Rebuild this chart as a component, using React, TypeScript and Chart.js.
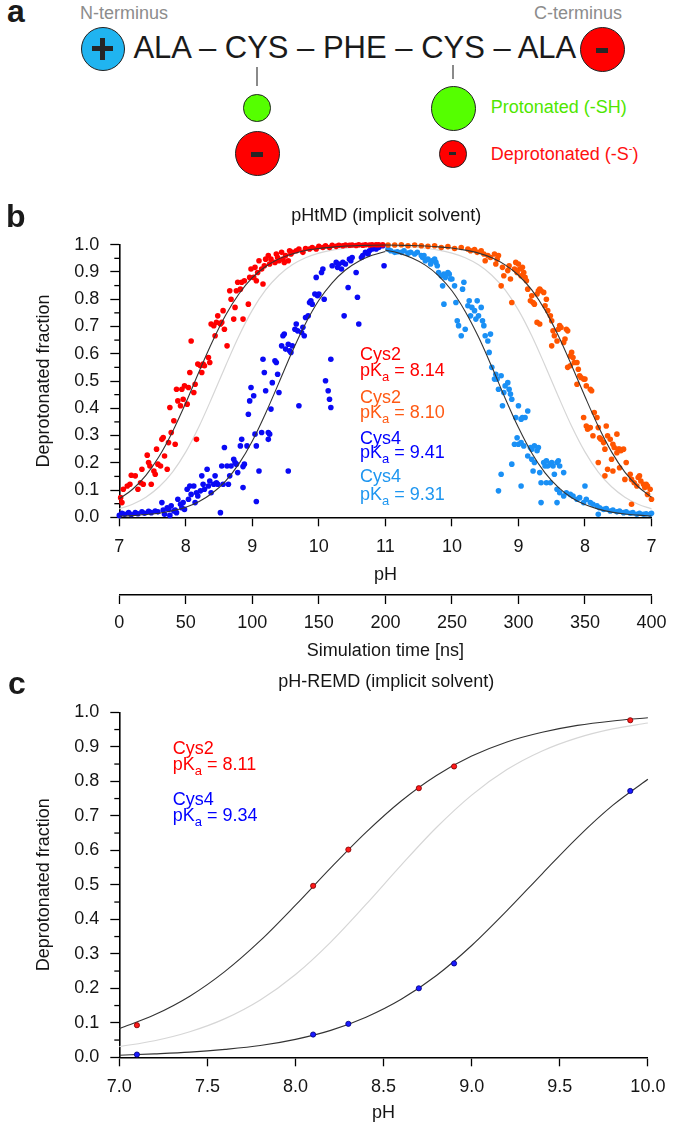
import React, { useEffect, useRef } from 'react';
import { Chart, registerables } from 'chart.js';

Chart.register(...registerables);

const FONT = '"Liberation Sans", Arial, Helvetica, sans-serif';

// ---------------- Panel b data (pHtMD) ----------------
const PH_TICK_LABELS = ['7', '8', '9', '10', '11', '10', '9', '8', '7'];
const TIME_TICK_LABELS = ['0', '50', '100', '150', '200', '250', '300', '350', '400'];

const CYS2_UP_T = [1, 2, 3, 6, 8, 9, 12, 14, 16, 17, 18, 21, 22, 23, 24, 26, 27, 28, 29, 31, 32, 33, 34, 36, 37, 38, 39, 41, 42, 43, 44, 46, 47, 48, 49, 51, 52, 53, 54, 56, 57, 58, 59, 61, 62, 63, 64, 67, 68, 69, 71, 72, 73, 74, 76, 77, 78, 79, 81, 83, 84, 86, 87, 88, 89, 91, 92, 93, 94, 97, 98, 99, 101, 102, 103, 104, 105, 107, 108, 109, 110, 112, 113, 114, 117, 118, 119, 120, 122, 123, 124, 125, 127, 128, 129, 130, 133, 135, 138, 140, 143, 145, 148, 150, 153, 155, 158, 160, 163, 165, 168, 170, 173, 175, 178, 180, 183, 185, 188, 190, 193, 195, 198];
const CYS2_UP_F = [0.072, 0.054, 0.103, 0.115, 0.121, 0.154, 0.152, 0.103, 0.127, 0.176, 0.121, 0.228, 0.201, 0.188, 0.121, 0.17, 0.158, 0.25, 0.195, 0.188, 0.286, 0.293, 0.225, 0.176, 0.274, 0.403, 0.311, 0.354, 0.268, 0.47, 0.427, 0.409, 0.47, 0.433, 0.482, 0.415, 0.476, 0.531, 0.647, 0.458, 0.488, 0.286, 0.562, 0.556, 0.531, 0.562, 0.556, 0.586, 0.568, 0.709, 0.703, 0.666, 0.715, 0.739, 0.709, 0.715, 0.758, 0.69, 0.629, 0.831, 0.8, 0.727, 0.77, 0.831, 0.862, 0.837, 0.862, 0.727, 0.868, 0.782, 0.88, 0.911, 0.88, 0.917, 0.868, 0.898, 0.941, 0.911, 0.856, 0.923, 0.947, 0.96, 0.929, 0.947, 0.935, 0.966, 0.953, 0.941, 0.972, 0.947, 0.935, 0.96, 0.941, 0.978, 0.966, 0.972, 0.978, 0.984, 0.972, 0.986, 0.984, 0.99, 0.984, 0.994, 0.99, 0.996, 0.99, 0.998, 0.994, 0.998, 0.996, 0.999, 0.998, 0.999, 0.997, 1.0, 0.998, 1.0, 0.999, 1.0, 1.0, 1.0, 1.0];

const CYS4_UP_T = [0, 2, 4, 7, 9, 12, 14, 17, 19, 22, 24, 27, 29, 32, 33, 34, 36, 37, 38, 39, 41, 42, 43, 44, 46, 47, 48, 49, 51, 52, 53, 54, 56, 57, 58, 59, 61, 62, 63, 64, 66, 67, 68, 69, 71, 72, 73, 74, 76, 77, 78, 79, 81, 82, 83, 84, 86, 87, 88, 89, 91, 92, 93, 93, 94, 96, 97, 98, 99, 101, 102, 103, 103, 105, 107, 108, 109, 110, 112, 112, 113, 114, 115, 117, 118, 119, 120, 122, 123, 124, 125, 127, 127, 128, 129, 130, 132, 133, 134, 135, 137, 138, 139, 140, 142, 143, 144, 145, 147, 148, 149, 150, 152, 153, 154, 155, 157, 158, 159, 159, 160, 163, 164, 165, 167, 168, 169, 170, 172, 173, 174, 175, 178, 179, 180, 182, 183, 185, 187, 188, 190, 193, 195, 198, 199];
const CYS4_UP_F = [0.007, 0.015, 0.011, 0.017, 0.01, 0.017, 0.013, 0.02, 0.015, 0.022, 0.017, 0.023, 0.02, 0.054, 0.027, 0.011, 0.035, 0.029, 0.007, 0.042, 0.023, 0.027, 0.017, 0.066, 0.048, 0.035, 0.054, 0.029, 0.103, 0.066, 0.115, 0.084, 0.115, 0.054, 0.09, 0.078, 0.097, 0.152, 0.121, 0.103, 0.176, 0.115, 0.133, 0.09, 0.121, 0.152, 0.127, 0.121, 0.017, 0.188, 0.121, 0.256, 0.188, 0.121, 0.152, 0.188, 0.213, 0.201, 0.195, 0.164, 0.262, 0.286, 0.109, 0.186, 0.195, 0.262, 0.378, 0.427, 0.476, 0.446, 0.305, 0.262, 0.058, 0.17, 0.311, 0.58, 0.531, 0.464, 0.311, 0.286, 0.305, 0.397, 0.494, 0.574, 0.568, 0.525, 0.458, 0.629, 0.666, 0.672, 0.617, 0.635, 0.17, 0.611, 0.605, 0.629, 0.69, 0.709, 0.684, 0.409, 0.678, 0.697, 0.666, 0.733, 0.739, 0.788, 0.794, 0.782, 0.819, 0.88, 0.813, 0.819, 0.898, 0.911, 0.8, 0.501, 0.464, 0.433, 0.403, 0.58, 0.923, 0.935, 0.917, 0.929, 0.911, 0.935, 0.739, 0.929, 0.843, 0.947, 0.941, 0.953, 0.898, 0.807, 0.709, 0.953, 0.96, 0.972, 0.966, 0.978, 0.984, 0.984, 0.99, 0.996, 0.923];

const CYS2_DOWN_T = [202, 207, 212, 217, 222, 227, 232, 237, 242, 247, 252, 257, 262, 264, 267, 269, 272, 274, 275, 277, 279, 282, 283, 284, 285, 287, 288, 289, 292, 293, 294, 295, 297, 298, 299, 300, 302, 303, 301, 304, 305, 306, 307, 309, 310, 311, 312, 314, 315, 316, 317, 319, 320, 321, 322, 324, 325, 314, 316, 326, 325, 327, 329, 330, 331, 332, 334, 335, 336, 337, 339, 340, 341, 342, 337, 339, 344, 345, 346, 347, 349, 350, 351, 354, 355, 344, 349, 351, 352, 354, 356, 357, 359, 360, 361, 362, 364, 365, 366, 367, 369, 371, 372, 374, 375, 376, 377, 379, 360, 365, 367, 370, 371, 374, 376, 380, 381, 384, 385, 385, 387, 389, 390, 391, 392, 394, 395, 396, 397, 397, 399, 400];
const CYS2_DOWN_F = [0.999, 0.999, 1.0, 0.996, 0.999, 0.996, 0.994, 0.996, 0.99, 0.993, 0.986, 0.99, 0.984, 0.978, 0.982, 0.972, 0.978, 0.966, 0.941, 0.96, 0.953, 0.966, 0.929, 0.947, 0.96, 0.849, 0.917, 0.886, 0.905, 0.923, 0.874, 0.788, 0.911, 0.935, 0.898, 0.929, 0.886, 0.917, 0.911, 0.898, 0.88, 0.868, 0.837, 0.794, 0.813, 0.788, 0.782, 0.819, 0.831, 0.837, 0.831, 0.825, 0.776, 0.8, 0.758, 0.739, 0.721, 0.715, 0.709, 0.684, 0.629, 0.666, 0.647, 0.69, 0.703, 0.696, 0.641, 0.654, 0.69, 0.684, 0.592, 0.605, 0.586, 0.568, 0.55, 0.556, 0.568, 0.543, 0.519, 0.513, 0.507, 0.507, 0.482, 0.47, 0.464, 0.488, 0.366, 0.335, 0.323, 0.329, 0.299, 0.384, 0.366, 0.329, 0.292, 0.286, 0.274, 0.25, 0.335, 0.299, 0.286, 0.268, 0.256, 0.305, 0.25, 0.25, 0.244, 0.25, 0.201, 0.152, 0.176, 0.213, 0.17, 0.237, 0.182, 0.139, 0.201, 0.158, 0.139, 0.048, 0.127, 0.115, 0.146, 0.152, 0.133, 0.121, 0.109, 0.121, 0.084, 0.115, 0.103, 0.066];

const CYS4_DOWN_T = [202, 204, 207, 209, 212, 214, 217, 219, 222, 224, 227, 228, 229, 230, 232, 234, 235, 237, 238, 239, 240, 242, 243, 244, 244, 245, 247, 248, 249, 250, 252, 253, 254, 255, 257, 258, 259, 260, 262, 263, 264, 265, 267, 268, 269, 270, 272, 273, 274, 275, 277, 278, 279, 280, 282, 283, 284, 285, 285, 287, 287, 288, 289, 290, 292, 293, 294, 295, 295, 297, 298, 299, 300, 302, 302, 303, 300, 302, 305, 307, 304, 309, 310, 312, 314, 315, 307, 310, 312, 311, 316, 319, 320, 321, 322, 324, 325, 326, 327, 329, 330, 331, 334, 321, 324, 317, 317, 329, 329, 331, 334, 336, 339, 341, 344, 346, 349, 350, 351, 354, 356, 359, 360, 361, 364, 366, 369, 371, 374, 376, 379, 381, 384, 386, 389, 391, 394, 396, 399, 400];
const CYS4_DOWN_F = [0.984, 0.978, 0.972, 0.974, 0.972, 0.978, 0.969, 0.972, 0.966, 0.972, 0.96, 0.953, 0.96, 0.941, 0.947, 0.929, 0.941, 0.947, 0.935, 0.923, 0.898, 0.886, 0.849, 0.782, 0.892, 0.88, 0.898, 0.892, 0.874, 0.874, 0.849, 0.788, 0.721, 0.703, 0.666, 0.837, 0.862, 0.69, 0.776, 0.794, 0.739, 0.77, 0.758, 0.727, 0.794, 0.739, 0.77, 0.721, 0.703, 0.666, 0.647, 0.605, 0.672, 0.55, 0.507, 0.525, 0.507, 0.47, 0.097, 0.519, 0.158, 0.409, 0.458, 0.482, 0.494, 0.47, 0.452, 0.433, 0.195, 0.268, 0.366, 0.292, 0.268, 0.274, 0.115, 0.366, 0.409, 0.36, 0.366, 0.39, 0.262, 0.256, 0.25, 0.262, 0.244, 0.256, 0.225, 0.213, 0.201, 0.17, 0.164, 0.201, 0.188, 0.207, 0.188, 0.195, 0.201, 0.188, 0.158, 0.201, 0.207, 0.188, 0.164, 0.127, 0.127, 0.127, 0.054, 0.054, 0.103, 0.09, 0.078, 0.09, 0.084, 0.078, 0.066, 0.072, 0.054, 0.115, 0.066, 0.054, 0.048, 0.042, 0.011, 0.035, 0.029, 0.032, 0.023, 0.027, 0.02, 0.023, 0.017, 0.02, 0.015, 0.017, 0.011, 0.015, 0.011, 0.013, 0.011, 0.015];

// fitted titration curves read along the time axis (panel b)
const FIT_T_UP = [0, 10, 20, 30, 40, 50, 60, 70, 80, 90, 100, 110, 120, 130, 140, 150, 160, 170, 180, 190, 200];
const FIT_CYS2_UP = [0.068, 0.103, 0.154, 0.224, 0.314, 0.42, 0.535, 0.645, 0.742, 0.82, 0.879, 0.92, 0.948, 0.966, 0.979, 0.986, 0.991, 0.995, 0.997, 0.998, 0.999];
const FIT_CYS4_UP = [0.004, 0.006, 0.01, 0.015, 0.024, 0.037, 0.058, 0.089, 0.134, 0.197, 0.28, 0.382, 0.494, 0.608, 0.711, 0.796, 0.86, 0.907, 0.939, 0.961, 0.975];
const FIT_T_DOWN = [200, 210, 220, 230, 240, 250, 260, 270, 280, 290, 300, 310, 320, 330, 340, 350, 360, 370, 380, 390, 400];
const FIT_CYS2_DOWN = [0.999, 0.998, 0.997, 0.995, 0.992, 0.988, 0.98, 0.969, 0.952, 0.926, 0.888, 0.834, 0.76, 0.666, 0.557, 0.443, 0.334, 0.24, 0.166, 0.112, 0.074];
const FIT_CYS4_DOWN = [0.98, 0.969, 0.951, 0.925, 0.886, 0.831, 0.755, 0.661, 0.552, 0.437, 0.329, 0.236, 0.163, 0.11, 0.072, 0.047, 0.03, 0.019, 0.012, 0.008, 0.005];
const REF_T = [0, 10, 20, 30, 40, 50, 60, 70, 80, 90, 100, 110, 120, 130, 140, 150, 160, 170, 180, 190, 200, 210, 220, 230, 240, 250, 260, 270, 280, 290, 300, 310, 320, 330, 340, 350, 360, 370, 380, 390, 400];
const REF_F = [0.031, 0.048, 0.074, 0.112, 0.166, 0.24, 0.334, 0.443, 0.557, 0.666, 0.76, 0.834, 0.888, 0.926, 0.952, 0.969, 0.98, 0.987, 0.992, 0.995, 0.997, 0.995, 0.992, 0.987, 0.98, 0.969, 0.952, 0.926, 0.888, 0.834, 0.76, 0.666, 0.557, 0.443, 0.334, 0.24, 0.166, 0.112, 0.074, 0.048, 0.031];

// ---------------- Panel c data (pH-REMD) ----------------
const REMD_PH = [7.1, 8.1, 8.3, 8.7, 8.9, 9.9];
const REMD_CYS2 = [0.093, 0.497, 0.602, 0.78, 0.843, 0.977];
const REMD_CYS4 = [0.008, 0.066, 0.097, 0.2, 0.272, 0.772];
const FIT_PH = [7.0, 7.2, 7.4, 7.6, 7.8, 8.0, 8.2, 8.4, 8.6, 8.8, 9.0, 9.2, 9.4, 9.6, 9.8, 10.0];
const FIT_C_CYS2 = [0.083, 0.123, 0.177, 0.249, 0.338, 0.441, 0.549, 0.652, 0.743, 0.817, 0.873, 0.914, 0.942, 0.962, 0.975, 0.984];
const FIT_C_CYS4 = [0.006, 0.01, 0.015, 0.023, 0.034, 0.052, 0.078, 0.116, 0.168, 0.237, 0.324, 0.425, 0.532, 0.637, 0.73, 0.806];
const FIT_C_REF = [0.031, 0.048, 0.074, 0.112, 0.166, 0.24, 0.334, 0.443, 0.557, 0.666, 0.76, 0.834, 0.888, 0.926, 0.952, 0.969];

// ---------------- styles ----------------
const RED = '#ff0000';
const ORANGE = '#ff5500';
const BLUE = '#0a0af5';
const LIGHT_BLUE = '#1a90f5';
const CURVE = '#333333';
const REF = '#d6d6d6';
const AXIS = '#000000';
const TXT = '#151515';

const pts = (xs: number[], ys: number[]) => xs.map((x, i) => ({ x, y: ys[i] }));

const curve = (data: any[], color: string, width = 1.1) => ({
  data,
  borderColor: color,
  borderWidth: width,
  pointRadius: 0,
  cubicInterpolationMode: 'monotone',
  fill: false,
  showLine: true,
  clip: 2,
});

const dots = (data: any[], color: string, radius = 2.8, border = 'rgba(0,0,0,0)', bw = 0) => ({
  data,
  showLine: false,
  pointRadius: radius,
  pointBackgroundColor: color,
  pointBorderColor: border,
  pointBorderWidth: bw,
  borderColor: color,
  backgroundColor: color,
  clip: 6,
});

const isMinor = (v: number) => Math.round(v * 20) % 2 === 1;

const minorTicks = {
  id: 'minorTicks',
  afterDraw(chart: any) {
    const y = chart.scales.y;
    const ctx = chart.ctx;
    ctx.save();
    ctx.strokeStyle = AXIS;
    ctx.lineWidth = 1.3;
    y.ticks.forEach((t: any) => {
      if (isMinor(t.value)) {
        const py = y.getPixelForValue(t.value);
        ctx.beginPath();
        ctx.moveTo(y.right - 5, py);
        ctx.lineTo(y.right, py);
        ctx.stroke();
      }
    });
    ctx.restore();
  },
};

const font18 = { family: FONT, size: 18 };

const yScale = () => ({
  type: 'linear',
  min: 0,
  max: 1,
  afterFit: (s: any) => {
    s.width = 119.3;
  },
  ticks: {
    stepSize: 0.05,
    autoSkip: false,
    padding: 11,
    color: TXT,
    font: font18,
    callback: (v: any) => (isMinor(Number(v)) ? '' : Number(v).toFixed(1)),
  },
  grid: {
    drawOnChartArea: false,
    tickLength: 9,
    tickWidth: 1.3,
    tickColor: (c: any) => (c.tick && isMinor(c.tick.value) ? 'rgba(0,0,0,0)' : AXIS),
  },
  border: { display: true, color: AXIS, width: 1.6 },
  title: {
    display: true,
    text: 'Deprotonated fraction',
    color: TXT,
    font: font18,
    padding: { top: 33.7, bottom: 0 },
  },
});

const baseOptions = (scales: any, padTop: number) => ({
  responsive: false,
  maintainAspectRatio: false,
  animation: false,
  devicePixelRatio: 1,
  events: [],
  layout: { padding: { left: 0, right: 22, top: padTop, bottom: 0 } },
  plugins: { legend: { display: false }, tooltip: { enabled: false }, title: { display: false } },
  scales,
});

function configB() {
  return {
    type: 'line',
    data: {
      datasets: [
        curve(pts(FIT_T_UP, FIT_CYS2_UP), CURVE),
        curve(pts(FIT_T_UP, FIT_CYS4_UP), CURVE),
        curve(pts(FIT_T_DOWN, FIT_CYS2_DOWN), CURVE),
        curve(pts(FIT_T_DOWN, FIT_CYS4_DOWN), CURVE),
        dots(pts(CYS2_UP_T, CYS2_UP_F), RED),
        dots(pts(CYS4_UP_T, CYS4_UP_F), BLUE),
        dots(pts(CYS2_DOWN_T, CYS2_DOWN_F), ORANGE),
        dots(pts(CYS4_DOWN_T, CYS4_DOWN_F), LIGHT_BLUE),
        curve(pts(REF_T, REF_F), REF, 1.2),
      ],
    },
    options: baseOptions(
      {
        x: {
          type: 'linear',
          position: 'bottom',
          weight: 0,
          min: 0,
          max: 400,
          afterFit: (s: any) => {
            s.height = 77.7;
          },
          ticks: {
            stepSize: 50,
            autoSkip: false,
            maxRotation: 0,
            padding: 9.6,
            color: TXT,
            font: font18,
            callback: (_v: any, i: number) => PH_TICK_LABELS[i],
          },
          grid: { drawOnChartArea: false, tickLength: 9, tickWidth: 1.3, tickColor: AXIS },
          border: { display: true, color: AXIS, width: 1.6 },
          title: { display: true, text: 'pH', color: TXT, font: font18, padding: { top: 0, bottom: 9.2 } },
        },
        x2: {
          type: 'linear',
          position: 'bottom',
          weight: 1,
          min: 0,
          max: 400,
          afterFit: (s: any) => {
            s.height = 67;
          },
          ticks: {
            stepSize: 50,
            autoSkip: false,
            maxRotation: 0,
            padding: 8.5,
            color: TXT,
            font: font18,
            callback: (_v: any, i: number) => TIME_TICK_LABELS[i],
          },
          grid: { drawOnChartArea: false, tickLength: 9, tickWidth: 1.3, tickColor: AXIS },
          border: { display: true, color: AXIS, width: 1.6 },
          title: {
            display: true,
            text: 'Simulation time [ns]',
            color: TXT,
            font: font18,
            padding: { top: 0, bottom: 0 },
          },
        },
        y: yScale(),
      },
      44.7
    ),
    plugins: [minorTicks],
  };
}

function configC() {
  return {
    type: 'line',
    data: {
      datasets: [
        dots(pts(REMD_PH, REMD_CYS2), '#ff1a1a', 2.6, '#7a0000', 0.8),
        dots(pts(REMD_PH, REMD_CYS4), '#1a1aff', 2.6, '#00007a', 0.8),
        curve(pts(FIT_PH, FIT_C_CYS2), CURVE),
        curve(pts(FIT_PH, FIT_C_CYS4), CURVE),
        curve(pts(FIT_PH, FIT_C_REF), REF, 1.2),
      ],
    },
    options: baseOptions(
      {
        x: {
          type: 'linear',
          position: 'bottom',
          min: 7,
          max: 10,
          afterFit: (s: any) => {
            s.height = 66.7;
          },
          ticks: {
            stepSize: 0.5,
            autoSkip: false,
            maxRotation: 0,
            padding: 9.6,
            color: TXT,
            font: font18,
            callback: (v: any) => Number(v).toFixed(1),
          },
          grid: { drawOnChartArea: false, tickLength: 9, tickWidth: 1.3, tickColor: AXIS },
          border: { display: true, color: AXIS, width: 1.6 },
          title: { display: true, text: 'pH', color: TXT, font: font18, padding: { top: 0, bottom: 0.2 } },
        },
        y: yScale(),
      },
      42.3
    ),
    plugins: [minorTicks],
  };
}

function ChartCanvas({ top, height, makeConfig }: { top: number; height: number; makeConfig: () => any }) {
  const ref = useRef<HTMLCanvasElement>(null);
  useEffect(() => {
    const chart = new Chart(ref.current as HTMLCanvasElement, makeConfig());
    return () => chart.destroy();
  }, []);
  return (
    <canvas
      ref={ref}
      width={675}
      height={height}
      style={{ position: 'absolute', left: 0, top, width: 675, height, display: 'block' }}
    />
  );
}

function Label({
  x,
  cy,
  size = 18,
  color = TXT,
  bold = false,
  anchor = 'start',
  children,
}: {
  x: number;
  cy: number;
  size?: number;
  color?: string;
  bold?: boolean;
  anchor?: string;
  children: any;
}) {
  return (
    <div
      style={{
        position: 'absolute',
        left: x,
        top: cy - 0.4885 * size,
        fontFamily: FONT,
        fontSize: size,
        fontWeight: bold ? 700 : 400,
        lineHeight: 1,
        color,
        whiteSpace: 'pre',
        transform: anchor === 'middle' ? 'translateX(-50%)' : undefined,
      }}
    >
      {children}
    </div>
  );
}

function PKa({ value }: { value: string }) {
  return (
    <>
      pK<span style={{ fontSize: 13, position: 'relative', top: 5 }}>a</span>
      {' = ' + value}
    </>
  );
}

function Circle({ cx, cy, r, fill }: { cx: number; cy: number; r: number; fill: string }) {
  return (
    <div
      style={{
        position: 'absolute',
        left: cx - r,
        top: cy - r,
        width: 2 * r,
        height: 2 * r,
        borderRadius: '50%',
        background: fill,
        border: '1.5px solid #222',
        boxSizing: 'border-box',
      }}
    />
  );
}

function Bar({ cx, cy, w, h, color = '#262626' }: { cx: number; cy: number; w: number; h: number; color?: string }) {
  return (
    <div style={{ position: 'absolute', left: cx - w / 2, top: cy - h / 2, width: w, height: h, background: color }} />
  );
}

export default function App() {
  return (
    <div
      style={{
        position: 'absolute',
        left: 0,
        top: 0,
        width: 675,
        height: 1128,
        background: '#ffffff',
        overflow: 'hidden',
      }}
    >
      {/* Panel a */}
      <Label x={7} cy={11} size={32} bold color="#1a1a1a">a</Label>
      <Label x={80} cy={12.8} size={18} color="#8c8c8c">N-terminus</Label>
      <Label x={534} cy={12.8} size={18} color="#8c8c8c">C-terminus</Label>
      <Circle cx={103} cy={49} r={22} fill="#20b4f0" />
      <Bar cx={102.5} cy={48.5} w={21} h={4.5} />
      <Bar cx={102.5} cy={48.5} w={4.5} h={22} />
      <Label x={133.4} cy={47.2} size={31} color="#1a1a1a">ALA – CYS – PHE – CYS – ALA</Label>
      <Circle cx={602} cy={49} r={22.5} fill="#ff0000" />
      <Bar cx={602} cy={50} w={12} h={5} />
      <Bar cx={257} cy={76} w={2.6} h={19} color="#8a8a8a" />
      <Bar cx={453} cy={72} w={2.6} h={14} color="#8a8a8a" />
      <Circle cx={257} cy={108} r={13.7} fill="#55ff00" />
      <Circle cx={257} cy={153.5} r={22.5} fill="#ff0000" />
      <Bar cx={257} cy={154} w={12} h={5} />
      <Circle cx={453} cy={108} r={22.5} fill="#55ff00" />
      <Circle cx={453} cy={154} r={13.7} fill="#ff0000" />
      <Bar cx={452.5} cy={153.5} w={7} h={3.5} />
      <Label x={490.7} cy={106.7} size={18} color="#4fe600">Protonated (-SH)</Label>
      <Label x={490.7} cy={153.3} size={18} color="#ff1010">
        Deprotonated (-S<span style={{ fontSize: 11, position: 'relative', top: -8 }}>-</span>)
      </Label>

      {/* Panel b */}
      <ChartCanvas top={200} height={462} makeConfig={configB} />
      <Label x={6} cy={216} size={32} bold color="#1a1a1a">b</Label>
      <Label x={386.3} cy={215} size={18} anchor="middle">pHtMD (implicit solvent)</Label>
      <Label x={360} cy={354} color={RED}>Cys2</Label>
      <Label x={360} cy={369.7} color={RED}><PKa value="8.14" /></Label>
      <Label x={360} cy={396.3} color="#ff5a14">Cys2</Label>
      <Label x={360} cy={412} color="#ff5a14"><PKa value="8.10" /></Label>
      <Label x={360} cy={437.5} color="#0000ff">Cys4</Label>
      <Label x={360} cy={452} color="#0000ff"><PKa value="9.41" /></Label>
      <Label x={360} cy={475.8} color="#1e96f0">Cys4</Label>
      <Label x={360} cy={493.7} color="#1e96f0"><PKa value="9.31" /></Label>

      {/* Panel c */}
      <ChartCanvas top={670} height={454} makeConfig={configC} />
      <Label x={8} cy={683} size={32} bold color="#1a1a1a">c</Label>
      <Label x={386.3} cy={680.5} size={18} anchor="middle">pH-REMD (implicit solvent)</Label>
      <Label x={172.7} cy={747.8} color={RED}>Cys2</Label>
      <Label x={172.7} cy={764} color={RED}><PKa value="8.11" /></Label>
      <Label x={172.7} cy={798.8} color="#0000ff">Cys4</Label>
      <Label x={172.7} cy={815} color="#0000ff"><PKa value="9.34" /></Label>
    </div>
  );
}
